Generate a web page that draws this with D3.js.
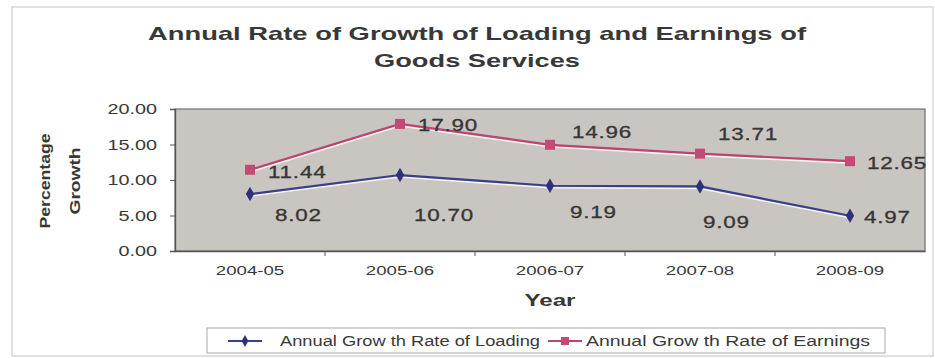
<!DOCTYPE html>
<html>
<head>
<meta charset="utf-8">
<script src="https://cdn.jsdelivr.net/npm/d3@7"></script>
<style>
  body { margin: 0; background: #fff; }
  text { font-family: "Liberation Sans", Arial, sans-serif; fill: #383838; }
</style>
</head>
<body>
<div id="chart"></div>
<script>
var years = ["2004-05", "2005-06", "2006-07", "2007-08", "2008-09"];
var loading = [8.02, 10.70, 9.19, 9.09, 4.97];
var earnings = [11.44, 17.90, 14.96, 13.71, 12.65];
var yTicks = [0, 5, 10, 15, 20];
var seriesNames = ["Annual Grow th Rate of Loading", "Annual Grow th Rate of Earnings"];

// where each value label sits relative to its point [dx, dy]
var loadingLabelOffset = [[25, 21], [14, 40], [20, 26], [3, 35], [14, 1]];
var earningsLabelOffset = [[18, 2], [18, 1], [22, -13], [18, -20], [17, 2]];

var width = 935, height = 358;
var plot = { left: 175, right: 925, top: 109, bottom: 251 };
var SX = 1.32; // the scanned text is stretched sideways

var svg = d3.select("#chart").append("svg").attr("width", width).attr("height", height);

// outer frame
svg.append("rect")
  .attr("x", 12).attr("y", 7).attr("width", 921).attr("height", 349)
  .attr("fill", "none").attr("stroke", "#cdcdcd").attr("stroke-width", 1.2);

var x = d3.scaleBand().domain(years).range([plot.left, plot.right]);
var y = d3.scaleLinear().domain([0, 20]).range([plot.bottom, plot.top]);

function cx(d, i) { return x(years[i]) + x.bandwidth() / 2; }

// plot area
svg.append("rect")
  .attr("x", plot.left).attr("y", plot.top)
  .attr("width", plot.right - plot.left).attr("height", plot.bottom - plot.top)
  .attr("fill", "#c9c6c2").attr("stroke", "#6e6e6e").attr("stroke-width", 1.2);

// y axis
var gY = svg.append("g").attr("transform", "translate(" + plot.left + ",0)")
  .call(d3.axisLeft(y).tickValues(yTicks).tickFormat(d3.format(".2f")).tickSize(5).tickPadding(13));
gY.select(".domain").attr("stroke", "#555").attr("stroke-width", 1.3);
gY.selectAll(".tick line").attr("stroke", "#555");
gY.selectAll(".tick text")
  .attr("font-size", 15).attr("fill", "#3a3a3a")
  .attr("x", -18 / SX).attr("transform", "scale(" + SX + ",1)");

// x axis
var gX = svg.append("g").attr("transform", "translate(0," + plot.bottom + ")")
  .call(d3.axisBottom(x).tickSize(0).tickPadding(14));
gX.select(".domain").attr("stroke", "#555").attr("stroke-width", 1.3);
gX.selectAll(".tick text")
  .attr("font-size", 13.5).attr("fill", "#3a3a3a")
  .attr("transform", "scale(" + (SX + 0.06) + ",1)");
gX.selectAll(".boundary").data(years.slice(1)).enter().append("line")
  .attr("class", "boundary")
  .attr("x1", function (d) { return x(d); }).attr("x2", function (d) { return x(d); })
  .attr("y1", 0).attr("y2", 5).attr("stroke", "#555");

// lines
var line = d3.line().x(cx).y(function (d) { return y(d); });
function drawSeries(values, color) {
  svg.append("path").datum(values).attr("d", line)
    .attr("transform", "translate(0,2)")
    .attr("fill", "none").attr("stroke", "#f4f4f4").attr("stroke-width", 1.6);
  svg.append("path").datum(values).attr("d", line)
    .attr("fill", "none").attr("stroke", color).attr("stroke-width", 2.2);
}
drawSeries(loading, "#3b3e8e");
drawSeries(earnings, "#c0426d");

svg.append("g").selectAll("path").data(loading).enter().append("path")
  .attr("d", d3.symbol().type(d3.symbolDiamond).size(60))
  .attr("transform", function (d, i) { return "translate(" + cx(d, i) + "," + y(d) + ")"; })
  .attr("fill", "#2e3079");
svg.append("g").selectAll("rect").data(earnings).enter().append("rect")
  .attr("x", function (d, i) { return cx(d, i) - 5; })
  .attr("y", function (d) { return y(d) - 5; })
  .attr("width", 10).attr("height", 10)
  .attr("fill", "#c24a74");

// value labels
function drawLabels(values, offsets) {
  svg.append("g").selectAll("text").data(values).enter().append("text")
    .attr("transform", function (d, i) {
      return "translate(" + (cx(d, i) + offsets[i][0]) + "," + (y(d) + offsets[i][1]) + ") scale(" + SX + ",1)";
    })
    .attr("dy", "0.36em")
    .attr("font-size", 17).attr("letter-spacing", 0.6).attr("fill", "#2f2f2f")
    .attr("stroke", "#2f2f2f").attr("stroke-width", 0.3)
    .text(function (d) { return d3.format(".2f")(d); });
}
drawLabels(loading, loadingLabelOffset);
drawLabels(earnings, earningsLabelOffset);

// titles
var title = svg.append("g");
title.append("text").attr("x", 477).attr("y", 40).attr("text-anchor", "middle")
  .attr("textLength", 658).attr("lengthAdjust", "spacingAndGlyphs")
  .attr("font-weight", "bold").attr("font-size", 19)
  .text("Annual Rate of Growth of Loading and Earnings of");
title.append("text").attr("x", 477).attr("y", 67).attr("text-anchor", "middle")
  .attr("textLength", 206).attr("lengthAdjust", "spacingAndGlyphs")
  .attr("font-weight", "bold").attr("font-size", 19)
  .text("Goods Services");

svg.append("text").attr("x", 550).attr("y", 306).attr("text-anchor", "middle")
  .attr("font-weight", "bold").attr("font-size", 17)
  .attr("textLength", 51).attr("lengthAdjust", "spacingAndGlyphs")
  .text("Year");

var yTitle = [["Percentage", 50, 95], ["Growth", 80, 67]];
yTitle.forEach(function (t) {
  svg.append("text")
    .attr("transform", "translate(" + t[1] + ",181) rotate(-90)")
    .attr("text-anchor", "middle")
    .attr("font-weight", "bold").attr("font-size", 15).attr("fill", "#222")
    .attr("textLength", t[2]).attr("lengthAdjust", "spacingAndGlyphs")
    .text(t[0]);
});

// legend
var legend = svg.append("g");
legend.append("rect").attr("x", 207).attr("y", 328).attr("width", 678).attr("height", 25)
  .attr("fill", "#fff").attr("stroke", "#a8a8a8");
var legendItems = [
  { name: seriesNames[0], color: "#3b3e8e", mark: "#2e3079", x: 228, textX: 280, len: 260 },
  { name: seriesNames[1], color: "#c0426d", mark: "#c24a74", x: 548, textX: 586, len: 284 }
];
legendItems.forEach(function (it, k) {
  var g = legend.append("g").attr("transform", "translate(0,341)");
  g.append("line").attr("x1", it.x).attr("x2", it.x + 34).attr("stroke", it.color).attr("stroke-width", 2);
  if (k === 0) {
    g.append("path").attr("d", d3.symbol().type(d3.symbolDiamond).size(40)())
      .attr("transform", "translate(" + (it.x + 17) + ",0)").attr("fill", it.mark);
  } else {
    g.append("rect").attr("x", it.x + 13).attr("y", -4).attr("width", 8).attr("height", 8).attr("fill", it.mark);
  }
  g.append("text").attr("x", it.textX).attr("dy", "0.36em")
    .attr("font-size", 14).attr("fill", "#333")
    .attr("textLength", it.len).attr("lengthAdjust", "spacingAndGlyphs")
    .text(it.name);
});
</script>
</body>
</html>
